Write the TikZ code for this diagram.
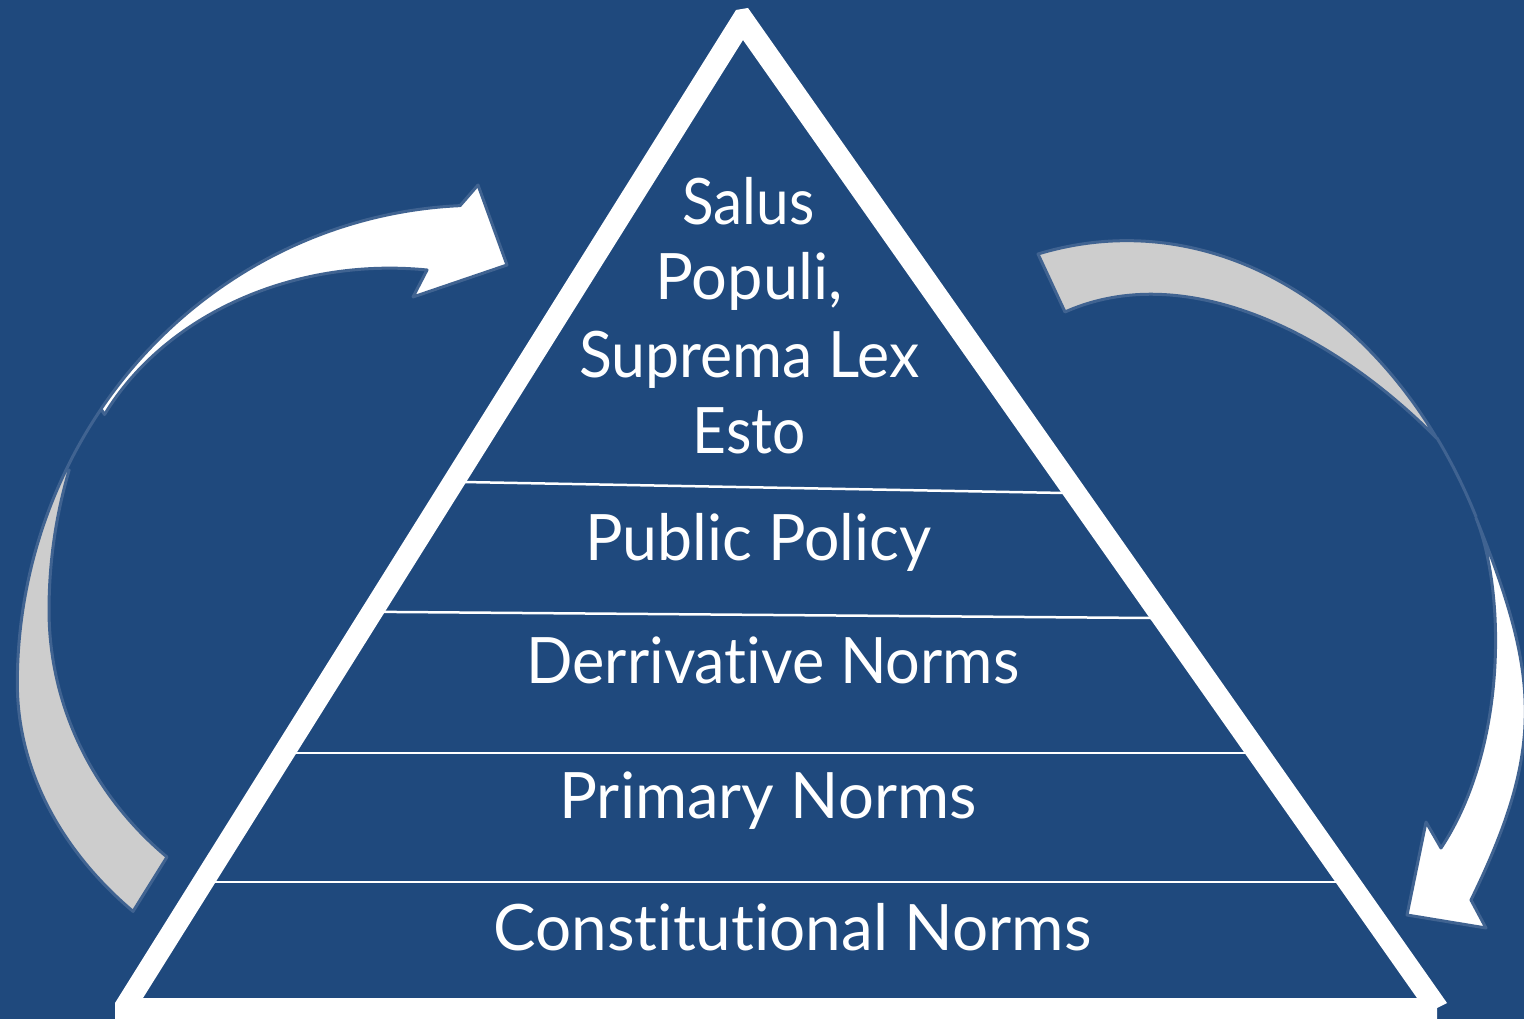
\documentclass[tikz,border=0pt]{standalone}
\usepackage{fontspec}
\setmainfont{Lato}[Ligatures=NoCommon]
\usepackage{graphicx}
\definecolor{bgblue}{RGB}{31,73,125}
\definecolor{arrowedge}{RGB}{64,99,145}
\definecolor{arrowgrey}{RGB}{205,205,205}
\newcommand\fitw[2]{\resizebox{#1}{\height}{#2}}
\tikzset{
  arrowpart/.style={draw=arrowedge, line width=3pt, line join=round},
  hline/.style={draw=white, line width=2.5pt},
  lbl/.style={text=white, inner sep=0pt, anchor=base, font=\fontsize{64}{70}\selectfont},
}
\begin{document}
\begin{tikzpicture}[x=1pt,y=-1pt]
\useasboundingbox (0,0) rectangle (1524,1019);
\clip (0,0) rectangle (1524,1019);
\fill[bgblue] (0,0) rectangle (1524,1019);

% level separators
\draw[hline] (452,481.8) -- (1075,493.2);
\draw[hline] (372,611.8) -- (1163,618.1);
\draw[hline] (284,753) -- (1258,753);
\draw[hline] (203,882) -- (1348,882);

% triangle frame
\fill[white, even odd rule] (736,10) -- (748,8) -- (1447,1003) -- (1437,1008) -- (1437,1030) -- (115,1030) -- (115,1003) -- cycle
  (743,40) -- (1417,998) -- (143,998) -- cycle;

% left arrow (grey tail, white head)
\path[arrowpart, fill=arrowgrey] (66,470)
  arc[start angle=206.5, end angle=180, x radius=463, y radius=478]
  arc[start angle=180, end angle=138.6, x radius=463, y radius=345]
  -- (167,857)
  arc[start angle=131.6, end angle=180, x radius=351, y radius=330]
  arc[start angle=180, end angle=199.5, x radius=351, y radius=420] -- cycle;
\draw[arrowpart] (66,470) arc[start angle=206.5, end angle=215, x radius=463, y radius=478];
\path[arrowpart, fill=white] (101,409)
  arc[start angle=215, end angle=267.5, x radius=463, y radius=478]
  -- (478,185) -- (507,265) -- (413,297) -- (427,270)
  arc[start angle=276.7, end angle=207, x radius=320, y radius=268] -- cycle;

% right arrow (grey tail, white head)
\path[arrowpart, fill=arrowgrey] (1065,312) -- (1038,254)
  arc[start angle=257, end angle=321.7, x radius=395, y radius=520]
  .. controls (1332,331.5) and (1183.7,259) .. (1065,312) -- cycle;
\draw[arrowpart] (1437,438) arc[start angle=321.7, end angle=332.1, x radius=395, y radius=520];
\path[arrowpart, fill=white] (1476,518)
  .. controls (1539.4,675.8) and (1545.8,747) .. (1471,900)
  -- (1486,928) -- (1407,915) -- (1426,822) -- (1441,848)
  .. controls (1507,748.4) and (1505.8,592.2) .. (1476,518) -- cycle;

% labels
\node[lbl] (salus)   at (748.5,225) {\fitw{132pt}{Salus}};
\node[lbl] (populi)  at (749,300)   {\fitw{187pt}{Populi,}};
\node[lbl] (suprema) at (749.5,377) {\fitw{340pt}{Suprema Lex}};
\node[lbl] (esto)    at (749,453)   {\fitw{113pt}{Esto}};
\node[lbl] (public)  at (758.5,560) {\fitw{346pt}{Public Policy}};
\node[lbl] (deriv)   at (773,683)   {\fitw{493pt}{Derrivative Norms}};
\node[lbl] (primary) at (768,818)   {\fitw{417pt}{Primary Norms}};
\node[lbl] (const)   at (792.5,950) {\fitw{598pt}{Constitutional Norms}};
\end{tikzpicture}
\end{document}
